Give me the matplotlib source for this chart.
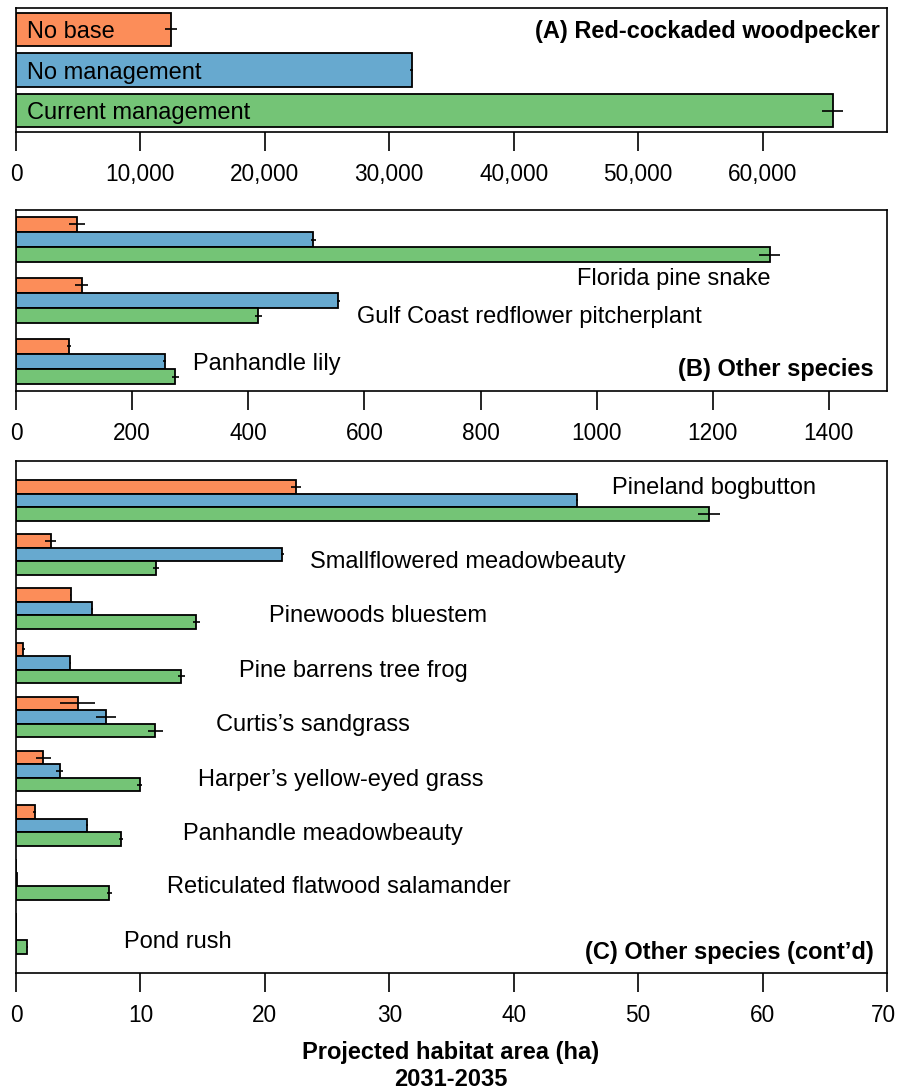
import numpy as np
import matplotlib
matplotlib.use('Agg')
import matplotlib.pyplot as plt
from matplotlib.ticker import FuncFormatter
from matplotlib.transforms import ScaledTranslation

plt.rcParams['font.family'] = ['Liberation Sans', 'DejaVu Sans']

# Scenarios and colours
scenarios = ['No base', 'No management', 'Current management']
colors = ['#FC8D59', '#67A9CF', '#74C476']

# (A) Red-cockaded woodpecker
rcw_area = [12450, 31800, 65650]
rcw_err = [500, 100, 850]

# (B) Other species
b_species = ['Florida pine snake', 'Gulf Coast redflower pitcherplant', 'Panhandle lily']
b_nobase = [105, 113, 91]
b_noman = [512, 555, 256]
b_current = [1298, 417, 274]
b_nobase_err = [14, 11, 4]
b_noman_err = [4, 3, 3]
b_current_err = [18, 6, 6]

# (C) Other species (cont'd)
c_species = ['Pineland bogbutton', 'Smallflowered meadowbeauty', 'Pinewoods bluestem',
             'Pine barrens tree frog', 'Curtis\u2019s sandgrass', 'Harper\u2019s yellow-eyed grass',
             'Panhandle meadowbeauty', 'Reticulated flatwood salamander', 'Pond rush']
c_nobase = [22.5, 2.8, 4.4, 0.6, 4.95, 2.2, 1.5, 0, 0]
c_noman = [45.1, 21.4, 6.1, 4.35, 7.2, 3.5, 5.7, 0.1, 0]
c_current = [55.7, 11.25, 14.5, 13.3, 11.2, 9.95, 8.45, 7.5, 0.9]
c_nobase_err = [0.4, 0.45, 0.05, 0.1, 1.4, 0.6, 0.1, 0, 0]
c_noman_err = [0.1, 0.1, 0.05, 0.05, 0.8, 0.25, 0.05, 0, 0]
c_current_err = [0.9, 0.25, 0.3, 0.3, 0.6, 0.2, 0.15, 0.2, 0.05]

# label placement (data units)
b_label_x = [1299, 587, 305]
b_label_y = [4.95, 7.45, 10.5]
b_label_ha = ['right', 'left', 'left']
c_label_x = [47.9, 23.6, 20.3, 17.9, 16.1, 14.6, 13.4, 12.1, 8.7]
c_label_dy = [-1.1, 0.4, 0.35, 0.4, 0.4, 0.45, 0.45, 0.4, 0.4]

FS = 17
TFS = 16.3


def style_axis(ax, xmax, ticks, fmt=None):
    ax.set_xlim(0, xmax)
    ax.set_xticks(ticks)
    if fmt is not None:
        ax.xaxis.set_major_formatter(fmt)
    ax.tick_params(axis='x', direction='out', length=14, width=1.2, pad=8, labelsize=TFS)
    ax.tick_params(axis='y', left=False, labelleft=False)
    for s in ax.spines.values():
        s.set_linewidth(1.2)


def grouped(ax, series, errs):
    n = len(series[0])
    for i, (vals, err) in enumerate(zip(series, errs)):
        ys = 1.5 + 4 * np.arange(n) + i
        ax.barh(ys, vals, height=1.0, color=colors[i], edgecolor='black', linewidth=1.3)
        ax.errorbar(vals, ys, xerr=err, fmt='none', ecolor='black', elinewidth=1.2, capsize=0)
    # R barplot style limits: bars span 1..4n, padded by 4%
    ax.set_ylim(4 * n + 0.04 * (4 * n - 1), 1 - 0.04 * (4 * n - 1))


fig = plt.figure(figsize=(8.97, 10.92), dpi=100)
W, H = 897, 1092


def panel(top, bottom):
    return fig.add_axes([16 / W, 1 - bottom / H, 871 / W, (bottom - top) / H])


# Panel A
axA = panel(8, 132)
ysA = 0.7 + 1.2 * np.arange(3)
axA.barh(ysA, rcw_area, height=1.0, color=colors, edgecolor='black', linewidth=1.3)
axA.errorbar(rcw_area, ysA, xerr=rcw_err, fmt='none', ecolor='black', elinewidth=1.2, capsize=0)
axA.set_ylim(3.736, 0.064)
style_axis(axA, 70000, np.arange(0, 60001, 10000), FuncFormatter(lambda v, p: f'{int(v):,}'))
for y, name in zip(ysA, scenarios):
    axA.annotate(name, (0, y), xytext=(8, 0), textcoords='offset points',
                 va='center_baseline', ha='left', fontsize=FS)
axA.text(0.992, 0.83, '(A) Red-cockaded woodpecker', transform=axA.transAxes,
         ha='right', va='center_baseline', fontsize=FS, fontweight='bold')

# Panel B
axB = panel(210, 391)
grouped(axB, [b_nobase, b_noman, b_current], [b_nobase_err, b_noman_err, b_current_err])
style_axis(axB, 1500, np.arange(0, 1401, 200))
for name, x, y, ha in zip(b_species, b_label_x, b_label_y, b_label_ha):
    axB.text(x, y, name, ha=ha, va='center_baseline', fontsize=FS)
axB.text(0.985, 0.13, '(B) Other species', transform=axB.transAxes,
         ha='right', va='center_baseline', fontsize=FS, fontweight='bold')

# Panel C
axC = panel(461, 973)
grouped(axC, [c_nobase, c_noman, c_current], [c_nobase_err, c_noman_err, c_current_err])
style_axis(axC, 70, np.arange(0, 71, 10))
for g, (name, x, dy) in enumerate(zip(c_species, c_label_x, c_label_dy)):
    axC.text(x, 2.5 + 4 * g + dy, name, ha='left', va='center_baseline', fontsize=FS)
axC.text(0.985, 0.045, '(C) Other species (cont\u2019d)', transform=axC.transAxes,
         ha='right', va='center_baseline', fontsize=FS, fontweight='bold')

# keep the last tick label inside the canvas
fig.canvas.draw()
last = axC.get_xticklabels()[-1]
last.set_transform(last.get_transform() + ScaledTranslation(-4 / 100, 0, fig.dpi_scale_trans))

fig.text(451 / W, 1 - 1052 / H, 'Projected habitat area (ha)', ha='center', va='center',
         fontsize=FS, fontweight='bold')
fig.text(451 / W, 1 - 1080 / H, '2031-2035', ha='center', va='center',
         fontsize=FS, fontweight='bold')

fig.savefig('out.png', dpi=100)
